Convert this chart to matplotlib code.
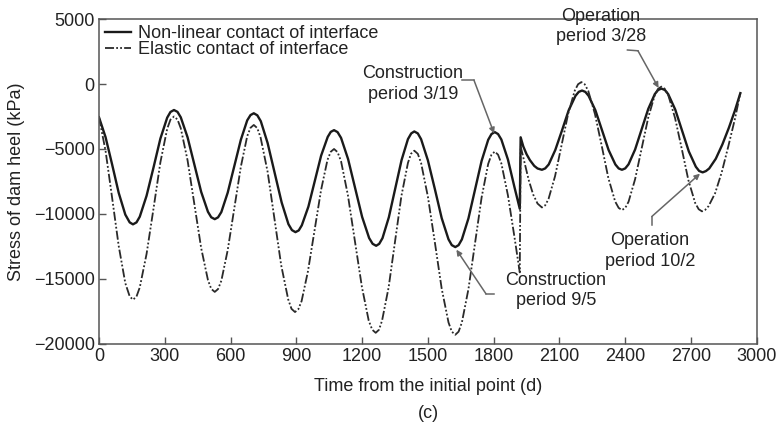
import matplotlib
matplotlib.use("Agg")
import matplotlib.pyplot as plt

plt.rcParams['font.family'] = ['Liberation Sans', 'DejaVu Sans']

# Non-linear contact of interface (solid)
t_nl = [0, 30, 60, 90, 120, 140, 155,
        171, 186, 217, 249, 280, 311, 326, 342,
        358, 373, 404, 435, 466, 497, 512, 528,
        543, 558, 587, 617, 647, 676, 691, 706,
        722, 738, 769, 801, 833, 864, 880, 896,
        911, 925, 955, 984, 1013, 1043, 1057, 1072,
        1088, 1104, 1136, 1168, 1200, 1232, 1248, 1264,
        1278, 1293, 1322, 1351, 1380, 1409, 1424, 1438,
        1454, 1469, 1500, 1532, 1563, 1594, 1609, 1625,
        1640, 1655, 1685, 1715, 1745, 1775, 1790, 1805,
        1820, 1835, 1865, 1895, 1919,
        1923, 1935, 1950, 1965, 1985, 2000, 2020,
        2035, 2051, 2081, 2112, 2142, 2173, 2188, 2203,
        2218, 2233, 2264, 2294, 2324, 2355, 2370, 2385,
        2400, 2415, 2445, 2475, 2505, 2535, 2550, 2565,
        2581, 2596, 2628, 2659, 2690, 2722, 2737, 2753,
        2768, 2783, 2813, 2843, 2873, 2900, 2925]
s_nl = [-2560, -4090, -6200, -8380, -10050, -10650, -10800,
        -10650, -10210, -8600, -6400, -4200, -2590, -2150, -2000,
        -2143, -2563, -4100, -6200, -8300, -9837, -10257, -10400,
        -10261, -9854, -8363, -6325, -4288, -2796, -2389, -2250,
        -2406, -2863, -4538, -6825, -9113, -10787, -11244, -11400,
        -11267, -10874, -9438, -7475, -5513, -4076, -3683, -3550,
        -3701, -4146, -5775, -8000, -10225, -11854, -12299, -12450,
        -12300, -11860, -10250, -8050, -5850, -4240, -3800, -3650,
        -3801, -4246, -5875, -8100, -10325, -11954, -12399, -12550,
        -12400, -11957, -10338, -8125, -5913, -4293, -3850, -3700,
        -3851, -4270, -5810, -7950, -9600,
        -4100, -4800, -5400, -5850, -6300, -6500, -6600,
        -6496, -6191, -5075, -3550, -2025, -909, -604, -500,
        -604, -909, -2025, -3550, -5075, -6191, -6496, -6600,
        -6494, -6181, -5038, -3475, -1913, -769, -456, -350,
        -460, -782, -1963, -3575, -5188, -6368, -6690, -6800,
        -6700, -6500, -5750, -4650, -3350, -2050, -700]

# Elastic contact of interface (dash-dot)
t_el = [0, 30, 60, 90, 120, 140, 155,
        171, 186, 217, 249, 280, 311, 326, 342,
        358, 373, 404, 435, 466, 497, 512, 528,
        543, 558, 587, 617, 647, 676, 691, 706,
        722, 737, 769, 800, 831, 863, 878, 894,
        909, 924, 953, 983, 1013, 1042, 1057, 1072,
        1088, 1104, 1135, 1167, 1199, 1230, 1246, 1262,
        1277, 1291, 1321, 1350, 1379, 1409, 1423, 1438,
        1454, 1469, 1500, 1532, 1563, 1594, 1609, 1625,
        1640, 1655, 1685, 1715, 1745, 1775, 1790, 1805,
        1820, 1835, 1865, 1895, 1919,
        1923, 1940, 1960, 1980, 2000, 2020,
        2035, 2050, 2080, 2110, 2140, 2170, 2185, 2200,
        2215, 2231, 2262, 2293, 2323, 2354, 2370, 2385,
        2400, 2415, 2445, 2475, 2505, 2535, 2550, 2565,
        2580, 2596, 2627, 2658, 2688, 2719, 2735, 2750,
        2765, 2780, 2810, 2840, 2870, 2900, 2925]
s_el = [-2560, -5150, -8770, -12475, -15325, -16345, -16600,
        -16360, -15655, -13075, -9550, -6025, -3445, -2740, -2500,
        -2730, -3405, -5875, -9250, -12625, -15096, -15770, -16000,
        -15782, -15139, -12788, -9575, -6363, -4011, -3368, -3150,
        -3395, -4115, -6750, -10350, -13950, -16585, -17305, -17550,
        -17337, -16709, -14413, -11275, -8138, -5841, -5213, -5000,
        -5241, -5948, -8538, -12075, -15613, -18202, -18909, -19150,
        -18912, -18211, -15645, -12140, -8635, -6069, -5368, -5130,
        -5371, -6079, -8673, -12215, -15758, -18351, -19059, -19300,
        -19060, -18355, -15775, -12250, -8725, -6145, -5440, -5200,
        -5441, -6110, -8565, -11800, -14500,
        -4800, -6000, -7400, -8500, -9200, -9500,
        -9336, -8853, -7088, -4675, -2263, -498, -14, 150,
        -17, -510, -2313, -4775, -7238, -9040, -9533, -9700,
        -9539, -9064, -7325, -4950, -2575, -837, -362, -200,
        -363, -843, -2600, -5000, -7400, -9157, -9637, -9800,
        -9680, -9400, -8400, -6800, -4800, -2700, -700]

x_ticks = [0, 300, 600, 900, 1200, 1500, 1800, 2100, 2400, 2700, 3000]
y_ticks = [-20000, -15000, -10000, -5000, 0, 5000]
y_ticklabels = ['\u221220000', '\u221215000', '\u221210000', '\u22125000', '0', '5000']

fig = plt.figure(figsize=(7.77, 4.24), dpi=100)
ax = fig.add_axes([0.1274, 0.189, 0.8466, 0.766])

ax.plot(t_nl, s_nl, color='#1a1a1a', lw=1.7, solid_joinstyle='round',
        label='Non-linear contact of interface')
ax.plot(t_el, s_el, color='#2a2a2a', lw=1.3, dashes=(5, 1.2, 1, 1.2, 1, 1.2),
        dash_joinstyle='round', label='Elastic contact of interface')

ax.set_xlim(0, 3000)
ax.set_ylim(-20000, 5000)
ax.set_xticks(x_ticks)
ax.set_yticks(y_ticks)
ax.set_yticklabels(y_ticklabels)
ax.tick_params(direction='in', length=5, width=1, color='#555555', labelsize=13,
               labelcolor='#222222', pad=3)
for sp in ax.spines.values():
    sp.set_color('#555555')
    sp.set_linewidth(1.1)

ax.set_xlabel('Time from the initial point (d)', fontsize=13, color='#222222', labelpad=9)
ax.set_ylabel('Stress of dam heel (kPa)', fontsize=13, color='#222222', labelpad=6)

leg = ax.legend(loc='upper left', frameon=False, fontsize=13, handlelength=1.4,
                handletextpad=0.4, borderaxespad=0.35, labelspacing=-0.05,
                borderpad=0.0)
for txt in leg.get_texts():
    txt.set_color('#222222')

arrow_col = '#666666'
txt_kw = dict(fontsize=13, color='#222222', ha='center', va='center', linespacing=1.25)

def callout(text, text_xy, path, target):
    ax.text(text_xy[0], text_xy[1], text, **txt_kw)
    xs = [p[0] for p in path]
    ys = [p[1] for p in path]
    ax.plot(xs, ys, color=arrow_col, lw=1.1)
    ax.annotate('', xy=target, xytext=path[-1],
                arrowprops=dict(arrowstyle='-|>', color=arrow_col, lw=1.1,
                                mutation_scale=8, shrinkA=0, shrinkB=0))

callout('Construction\nperiod 3/19', (1432, 0),
        [(1656, 300), (1710, 300)], (1802, -3800))
callout('Construction\nperiod 9/5', (2084, -15900),
        [(1800, -16150), (1765, -16150)], (1630, -12750))
callout('Operation\nperiod 3/28', (2290, 4450),
        [(2410, 2620), (2458, 2560)], (2552, -300))
callout('Operation\nperiod 10/2', (2513, -12850),
        [(2521, -10850), (2521, -10200)], (2741, -6900))

fig.text(0.551, 0.024, '(c)', fontsize=13, color='#222222', ha='center', va='center')

fig.savefig('out.png', dpi=100)
